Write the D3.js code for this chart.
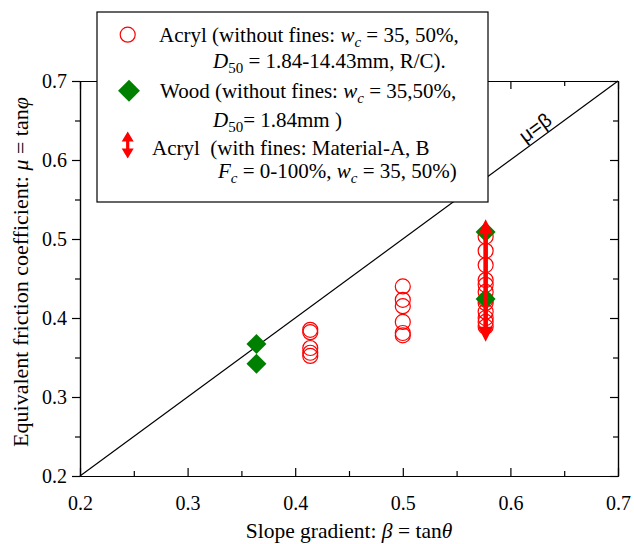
<!DOCTYPE html>
<html><head><meta charset="utf-8">
<script src="https://cdn.jsdelivr.net/npm/d3@7"></script>
<style>
html,body{margin:0;padding:0;background:#fff;}
svg{display:block;}
</style></head>
<body>
<svg id="chart" width="634" height="544"></svg>
<script>
// ---- data ----
const xTicks = [0.2, 0.3, 0.4, 0.5, 0.6, 0.7];
const xMinor = [0.25, 0.35, 0.45, 0.55, 0.65];
const yTicks = [0.2, 0.3, 0.4, 0.5, 0.6, 0.7];
const yMinor = [0.25, 0.35, 0.45, 0.55, 0.65];

const acrylBeta = [0.414, 0.414, 0.414, 0.414, 0.414,
                   0.5, 0.5, 0.5, 0.5, 0.5, 0.5,
                   0.577, 0.577, 0.577, 0.577, 0.577, 0.577, 0.577, 0.577, 0.577, 0.577, 0.577, 0.577];
const acrylMu   = [0.385, 0.382, 0.362, 0.356, 0.352,
                   0.440, 0.423, 0.415, 0.395, 0.381, 0.378,
                   0.503, 0.485, 0.467, 0.448, 0.442, 0.433, 0.423, 0.419, 0.408, 0.400, 0.395, 0.389];
const woodBeta = [0.364, 0.364, 0.577, 0.577];
const woodMu   = [0.367, 0.342, 0.509, 0.424];
const finesBeta = [0.577];
const finesMuLow = [0.370];
const finesMuHigh = [0.525];
const diagLine = [0.2, 0.7];

const RED = "#ff0000", GREEN = "#008000";
const SERIF = "'Liberation Serif','Times New Roman',serif";

const svg = d3.select("#chart");
const L = 80, R = 618, T = 81, B = 476;
const x = d3.scaleLinear().domain([0.2, 0.7]).range([L, R]);
const y = d3.scaleLinear().domain([0.2, 0.7]).range([B, T]);

// ---- diagonal ----
svg.append("line")
  .attr("x1", x(diagLine[0])).attr("y1", y(diagLine[0]))
  .attr("x2", x(diagLine[1])).attr("y2", y(diagLine[1]))
  .attr("stroke", "#000").attr("stroke-width", 1.2);

svg.append("text")
  .attr("transform", `translate(${x(0.625)+2},${y(0.625)-7}) rotate(-36.3)`)
  .attr("text-anchor", "middle")
  .attr("font-family", "'Liberation Sans',Arial,sans-serif")
  .attr("font-size", 20)
  .text("μ=β");

// ---- axes ----
function styleAxis(g) {
  g.selectAll("path,line").attr("stroke", "#000").attr("stroke-width", 1.2);
  g.selectAll("text").attr("font-family", SERIF).attr("font-size", 20).attr("fill", "#000");
}
svg.append("g").attr("transform", `translate(0,${B})`)
  .call(d3.axisBottom(x).tickValues(xTicks).tickSizeInner(-8).tickSizeOuter(0).tickPadding(20).tickFormat(d3.format(".1f")))
  .call(styleAxis);
svg.append("g").attr("transform", `translate(0,${B})`)
  .call(d3.axisBottom(x).tickValues(xMinor).tickSizeInner(-5).tickSizeOuter(0).tickFormat(""))
  .call(styleAxis);
svg.append("g").attr("transform", `translate(0,${T})`)
  .call(d3.axisTop(x).tickValues(xTicks).tickSizeInner(-8).tickSizeOuter(0).tickFormat(""))
  .call(styleAxis);
svg.append("g").attr("transform", `translate(0,${T})`)
  .call(d3.axisTop(x).tickValues(xMinor).tickSizeInner(-5).tickSizeOuter(0).tickFormat(""))
  .call(styleAxis);
svg.append("g").attr("transform", `translate(${L},0)`)
  .call(d3.axisLeft(y).tickValues(yTicks).tickSizeInner(8).tickSizeOuter(0).tickPadding(5).tickFormat(d3.format(".1f")))
  .call(styleAxis);
svg.append("g").attr("transform", `translate(${L},0)`)
  .call(d3.axisLeft(y).tickValues(yMinor).tickSizeInner(5).tickSizeOuter(0).tickFormat(""))
  .call(styleAxis);
svg.append("g").attr("transform", `translate(${R},0)`)
  .call(d3.axisRight(y).tickValues(yTicks).tickSizeInner(-8).tickSizeOuter(0).tickFormat(""))
  .call(styleAxis);
svg.append("g").attr("transform", `translate(${R},0)`)
  .call(d3.axisRight(y).tickValues(yMinor).tickSizeInner(-5).tickSizeOuter(0).tickFormat(""))
  .call(styleAxis);

// ---- axis titles ----
const xt = svg.append("text").attr("x", (L+R)/2).attr("y", 538)
  .attr("text-anchor", "middle").attr("font-family", SERIF).attr("font-size", 21.5);
xt.append("tspan").text("Slope gradient: ");
xt.append("tspan").attr("font-style", "italic").text("β");
xt.append("tspan").text(" = tan");
xt.append("tspan").attr("font-style", "italic").text("θ");

const yt = svg.append("text").attr("transform", `translate(28,272) rotate(-90)`)
  .attr("text-anchor", "middle").attr("font-family", SERIF).attr("font-size", 22);
yt.append("tspan").text("Equivalent friction coefficient: ");
yt.append("tspan").attr("font-style", "italic").text("μ");
yt.append("tspan").text(" = tan");
yt.append("tspan").attr("font-style", "italic").text("φ");

// ---- marks ----
const acryl = acrylBeta.map((b, i) => ({b, m: acrylMu[i]}));
const wood = woodBeta.map((b, i) => ({b, m: woodMu[i]}));
const fines = finesBeta.map((b, i) => ({b, lo: finesMuLow[i], hi: finesMuHigh[i]}));

svg.append("g").selectAll("circle").data(acryl).join("circle")
  .attr("cx", d => x(d.b)).attr("cy", d => y(d.m)).attr("r", 7.5)
  .attr("fill", "none").attr("stroke", RED).attr("stroke-width", 1.2);

const diamond = d3.symbol().type(d3.symbolSquare).size(200);
svg.append("g").selectAll("path").data(wood).join("path")
  .attr("d", diamond)
  .attr("transform", d => `translate(${x(d.b)},${y(d.m)}) rotate(45)`)
  .attr("fill", GREEN);

function arrowPath(cx, yTop, yBot, hw, hl, sw) {
  return `M${cx},${yTop} L${cx+hw},${yTop+hl} L${cx+sw},${yTop+hl} L${cx+sw},${yBot-hl} L${cx+hw},${yBot-hl} L${cx},${yBot} L${cx-hw},${yBot-hl} L${cx-sw},${yBot-hl} L${cx-sw},${yTop+hl} L${cx-hw},${yTop+hl} Z`;
}
svg.append("g").selectAll("path").data(fines).join("path")
  .attr("d", d => arrowPath(x(d.b), y(d.hi), y(d.lo), 7.5, 15, 2.3))
  .attr("fill", RED);

// ---- legend ----
const lg = svg.append("g");
lg.append("rect").attr("x", 97).attr("y", 12).attr("width", 391).attr("height", 190)
  .attr("fill", "#fff").attr("stroke", "#000").attr("stroke-width", 1.2);

lg.append("circle").attr("cx", 127.7).attr("cy", 34.7).attr("r", 7.5)
  .attr("fill", "none").attr("stroke", RED).attr("stroke-width", 1.2);
lg.append("path").attr("d", d3.symbol().type(d3.symbolSquare).size(240))
  .attr("transform", "translate(129,90.7) rotate(45)").attr("fill", GREEN);
lg.append("path").attr("d", arrowPath(127.7, 131.5, 158.5, 6, 10, 1.6)).attr("fill", RED);

function rich(xp, yp, parts) {
  const t = lg.append("text").attr("x", xp).attr("y", yp)
    .attr("font-family", SERIF).attr("font-size", 21).attr("fill", "#000")
    .style("white-space", "pre");
  let shifted = false;
  parts.forEach(p => {
    const s = t.append("tspan").text(p.t);
    if (p.i) s.attr("font-style", "italic");
    if (p.sub) { s.attr("font-size", 15).attr("dy", 5); shifted = true; }
    else if (shifted) { s.attr("dy", -5); shifted = false; }
  });
}
rich(159, 42, [{t:"Acryl (without fines: "}, {t:"w", i:1}, {t:"c", i:1, sub:1}, {t:" = 35, 50%,"}]);
rich(213, 68, [{t:"D", i:1}, {t:"50", sub:1}, {t:" = 1.84-14.43mm, R/C)."}]);
rich(160, 98, [{t:"Wood (without fines: "}, {t:"w", i:1}, {t:"c", i:1, sub:1}, {t:" = 35,50%,"}]);
rich(213, 127, [{t:"D", i:1}, {t:"50", sub:1}, {t:"= 1.84mm )"}]);
rich(152, 155, [{t:"Acryl  (with fines: Material-A, B"}]);
rich(218, 178, [{t:"F", i:1}, {t:"c", i:1, sub:1}, {t:" = 0-100%, "}, {t:"w", i:1}, {t:"c", i:1, sub:1}, {t:" = 35, 50%)"}]);
</script>
</body></html>
